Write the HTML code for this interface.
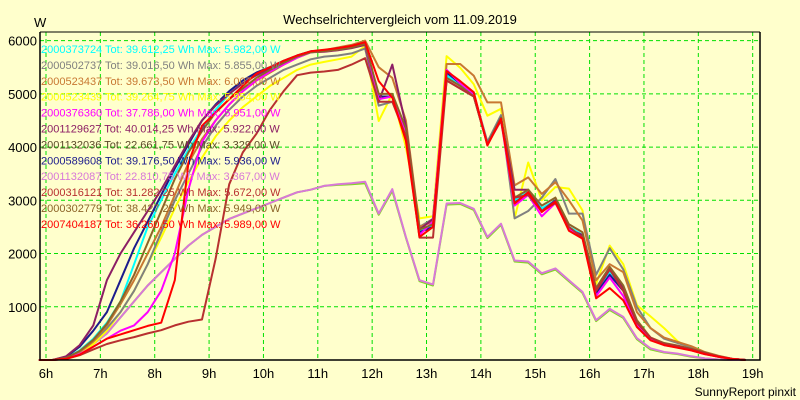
<!DOCTYPE html>
<html><head><meta charset="utf-8"><style>
body{margin:0;background:#ffffcc;}
svg{display:block;font-family:"Liberation Sans",sans-serif;}
</style></head><body>
<svg id="chart" width="800" height="400">
<rect x="0" y="0" width="800" height="400" fill="#ffffcc"/>
<text x="400" y="24" text-anchor="middle" font-size="13">Wechselrichtervergleich vom 11.09.2019</text>
<text x="34" y="27" font-size="13">W</text>
<text x="796" y="396" text-anchor="end" font-size="12">SunnyReport pinxit</text>
<g id="grid"></g><g id="series"></g><g id="axes"></g><g id="legend"></g>
</svg>
<script>
const times=[5.87,6.12,6.37,6.62,6.87,7.12,7.37,7.62,7.87,8.12,8.37,8.62,8.87,9.12,9.37,9.62,9.87,10.12,10.37,10.62,10.87,11.12,11.37,11.62,11.87,
12.12,12.37,12.62,12.87,13.12,13.37,13.62,13.87,14.12,14.37,14.62,14.87,15.12,15.37,15.62,15.87,16.12,16.37,16.62,16.87,17.12,
17.37,17.62,17.87,18.12,18.37,18.62,18.87];
const yTicks=[1000,2000,3000,4000,5000,6000];
const xTicks=[6,7,8,9,10,11,12,13,14,15,16,17,18,19];
const names=["2000373724","2000502737","2000523437","2000523439","2000376360","2001129627","2001132036","2000589608","2001132087","2000316121","2000302779","2007404187"];
const totals=["39.612,25","39.016,50","39.673,50","39.264,75","37.786,00","40.014,25","22.661,75","39.176,50","22.810,75","31.282,25","38.427,25","36.260,50"];
const maxes=["5.982,00","5.855,00","6.007,00","5.954,00","5.951,00","5.922,00","3.329,00","5.936,00","3.367,00","5.672,00","5.949,00","5.989,00"];
const colors=["#00ffff","#808080","#c87832","#ffff00","#ff00ff","#8c1e64","#80d820","#1c1c8c","#d878d8","#b83030","#8c6428","#ff0000"];
const legendColors=["#00ffff","#808080","#c87832","#ffff00","#ff00ff","#8c1e64","#5a4a28","#1c1c8c","#d878d8","#b83030","#8c6428","#ff0000"];
const s0=[0,0,40,180,400,700,1100,1800,2500,3000,3500,3950,4350,4700,5000,5200,5350,5480,5600,5700,5780,5800,5840,5880,5950,
4950,4950,4300,2400,2550,5350,5150,5000,4050,4550,3000,3200,2850,3000,2500,2350,1300,1650,1350,700,400,300,260,200,130,70,20,0];
const s1=[0,0,40,150,350,600,900,1300,1800,2400,3000,3500,4000,4400,4700,4950,5150,5300,5450,5550,5650,5700,5720,5760,5850,
4780,4850,4350,2500,2650,5300,5200,5000,4100,4600,2660,2800,3050,3400,2750,2750,1600,2100,1700,1000,600,400,320,240,140,70,20,0];
const s2=[0,0,40,150,350,650,1050,1500,2000,2500,3100,3700,4150,4500,4800,5050,5250,5400,5550,5680,5780,5820,5870,5920,6000,
5500,5300,4500,2500,2600,5560,5560,5340,4840,4840,3280,3430,3120,3340,3000,2620,1500,1800,1650,900,600,420,340,260,150,80,25,0];
const s3=[0,0,30,120,300,550,900,1300,1800,2300,2850,3350,3800,4200,4500,4750,4950,5150,5300,5450,5550,5600,5650,5700,5900,
4490,5000,4000,2660,2700,5710,5490,5180,4590,4720,2660,3710,3000,3250,3220,2810,1430,2150,1800,1030,820,600,350,200,120,60,20,0];
const s4=[0,0,20,110,250,400,550,650,900,1300,2000,3200,4100,4500,4800,5050,5250,5420,5550,5680,5780,5800,5830,5880,5950,
4900,4950,4250,2350,2600,5450,5200,5000,4050,4500,2900,3100,2700,2950,2450,2300,1200,1550,1200,650,380,280,240,180,110,60,20,0];
const s5=[0,0,70,280,650,1500,2000,2400,2800,3200,3650,4100,4500,4780,5000,5200,5350,5480,5600,5700,5780,5790,5820,5860,5920,
4850,5550,4400,2450,2650,5250,5100,4950,4050,4550,3200,3200,2800,3000,2450,2350,1300,1700,1350,720,420,300,260,200,130,70,20,0];
const s6=[0,0,30,150,300,500,800,1100,1400,1650,1900,2150,2350,2500,2650,2750,2850,2950,3050,3150,3200,3270,3290,3300,3320,
2730,3180,2300,1480,1400,2920,2930,2820,2290,2540,1850,1830,1610,1700,1480,1260,730,940,790,390,200,140,110,60,30,10,0,0];
const s7=[0,0,60,250,550,900,1500,2100,2600,3100,3600,4050,4500,4800,5050,5250,5400,5500,5620,5720,5800,5820,5860,5880,5930,
4950,4950,4300,2400,2500,5400,5200,5000,4050,4550,2950,3150,2800,3000,2450,2300,1250,1600,1300,680,400,290,250,190,120,60,20,0];
const s8=[0,0,30,150,300,500,800,1100,1400,1650,1900,2150,2350,2500,2650,2750,2850,2950,3050,3150,3200,3270,3300,3320,3350,
2750,3210,2310,1500,1420,2940,2950,2840,2310,2560,1870,1850,1630,1720,1500,1280,750,960,810,410,220,150,120,70,30,10,0,0];
const s9=[0,0,20,90,200,300,370,430,500,560,650,720,760,1900,3300,3900,4250,4700,5050,5350,5400,5420,5450,5550,5670,
4850,4850,4200,2300,2300,5250,5100,4950,4050,4500,3050,3100,2800,2950,2500,2300,1300,1700,1300,700,420,300,260,200,130,70,20,0];
const s10=[0,0,40,170,380,680,1100,1600,2200,2800,3400,3900,4300,4650,4900,5100,5300,5450,5580,5700,5780,5800,5830,5870,5940,
5000,5000,4350,2450,2550,5300,5150,4950,4050,4550,3050,3200,2900,3050,2550,2400,1350,1750,1400,750,420,320,270,210,140,70,20,0];
const s11=[0,0,20,100,250,400,480,560,640,700,1500,3700,4400,4650,4900,5150,5380,5500,5620,5720,5800,5830,5860,5900,5970,
5240,4930,4120,2310,2500,5430,5240,5030,4030,4530,2940,3150,2780,2970,2430,2280,1160,1350,1120,620,370,280,230,180,110,60,20,0];
const seriesData=[s0,s1,s2,s3,s4,s5,s6,s7,s8,s9,s10,s11];
const drawOrder=[6,8,3,1,2,0,7,5,4,10,9,11];

const X0=40,X1=760,Y0=32,Y1=360;
function xs(h){return 46+(h-6)*54.36;}
function ys(v){return 360-v*0.05323;}
const NS="http://www.w3.org/2000/svg";
function mk(tag,attrs,parent){const e=document.createElementNS(NS,tag);for(const k in attrs)e.setAttribute(k,attrs[k]);parent.appendChild(e);return e;}
const grid=document.getElementById('grid'),axes=document.getElementById('axes'),ser=document.getElementById('series'),leg=document.getElementById('legend');
xTicks.forEach(h=>{
  const l=mk('line',{x1:xs(h),x2:xs(h),y1:Y0,y2:Y1,stroke:'#00e000','stroke-dasharray':'4,3'},grid);
  
  
  const t=mk('text',{x:xs(h),y:378,'text-anchor':'middle','font-size':13},axes);
  t.textContent=h+'h';
  
  
});
yTicks.forEach(v=>{
  const l=mk('line',{x1:X0,x2:X1,y1:ys(v),y2:ys(v),stroke:'#00e000','stroke-dasharray':'4,3'},grid);
  
  
  const t=mk('text',{x:37,y:ys(v)+5,'text-anchor':'end','font-size':13},axes);
  t.textContent=v;
  
  
});
const fr=mk('polyline',{points:`${X0},${Y0} ${X0},${Y1} ${X1},${Y1} ${X1},${Y0}`,fill:'none',stroke:'#000','stroke-width':1.5},axes);


const tl=mk('line',{x1:X0,x2:X1,y1:Y0,y2:Y0,stroke:'#000','stroke-width':1},axes);


drawOrder.forEach(i=>{
  const pts=times.map((t,k)=>xs(t).toFixed(1)+','+ys(seriesData[i][k]).toFixed(1)).join(' ');
  const p=mk('polyline',{points:pts,fill:'none',stroke:colors[i],'stroke-width':2,'stroke-linejoin':'round'},ser);
  
  
});
names.forEach((n,i)=>{
  const t=mk('text',{x:41,y:53+i*15.9,'font-size':11,fill:legendColors[i]},leg);
  t.textContent=n+' Tot: '+totals[i]+' Wh Max: '+maxes[i]+' W';
  
  
});
</script>
</body></html>
